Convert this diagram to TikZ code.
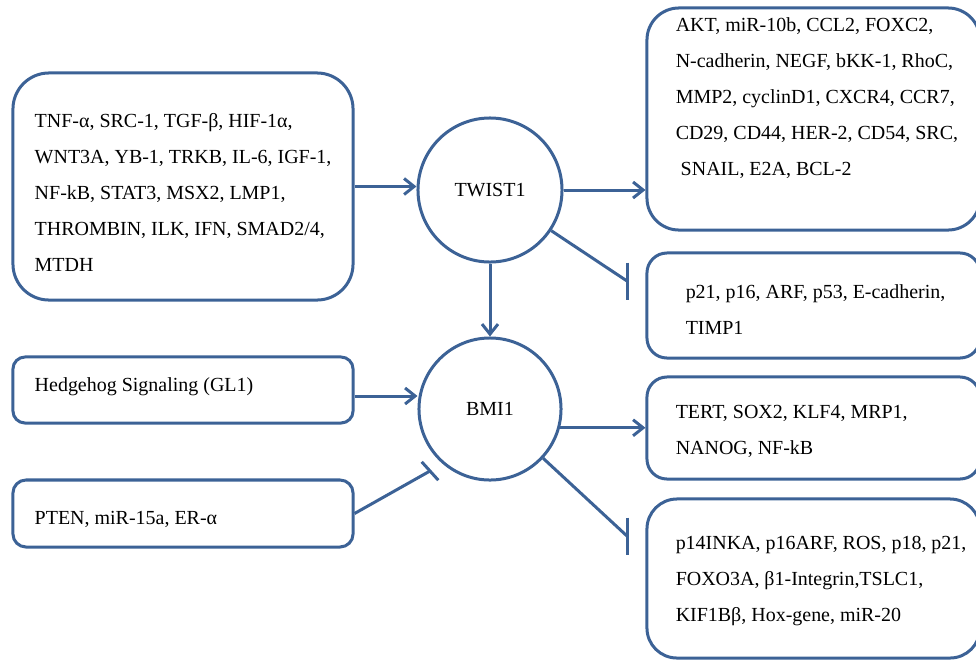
\documentclass[tikz,border=0pt]{standalone}
\usepackage{fontspec}
\setmainfont{Liberation Serif}
\newfontfamily\genefont{Liberation Serif}
\usepackage{tikz}
\usetikzlibrary{arrows.meta, positioning}
\definecolor{linkblue}{RGB}{60,98,150}

\begin{document}
\begin{tikzpicture}[x=0.025cm, y=-0.025cm,
    box/.style={draw=linkblue, line width=0.75mm, rectangle},
    gene/.style={draw=linkblue, line width=0.75mm, circle, inner sep=0pt, font=\genefont\fontsize{14.2}{17}\selectfont},
    txt/.style={align=left, inner sep=0pt, anchor=west, font=\genefont\fontsize{14.2}{25.6}\selectfont},
    act/.style={draw=linkblue, line width=0.75mm, -{Straight Barb[length=2.5mm, width=4mm]}},
    inh/.style={draw=linkblue, line width=0.75mm}]
    \useasboundingbox (0,0) rectangle (976,660);

    % 1. Hai gen trung tâm
    \node[gene, minimum size=36mm] (twist) at (490,190) {TWIST1};
    \node[gene, minimum size=35.5mm] (bmi) at (490,409) {BMI1};

    % 2. Các hộp bên trái
    \node[box, rounded corners=9mm, minimum width=85mm, minimum height=56.75mm] (up) at (183,186.5) {};
    \node[box, rounded corners=3mm, minimum width=85mm, minimum height=16.5mm] (hh) at (183,390) {};
    \node[box, rounded corners=3.25mm, minimum width=85mm, minimum height=16.75mm] (pten) at (183,513.5) {};

    % 3. Các hộp bên phải
    \node[box, rounded corners=8mm, minimum width=83.25mm, minimum height=55.5mm] (tr) at (813.5,119) {};
    \node[box, rounded corners=5mm, minimum width=83.25mm, minimum height=26.25mm] (mr) at (813.5,305.5) {};
    \node[box, rounded corners=5mm, minimum width=83.25mm, minimum height=25.5mm] (mrb) at (813.5,428) {};
    \node[box, rounded corners=7.5mm, minimum width=83.25mm, minimum height=39.75mm] (br) at (813.5,578.5) {};

    % 4. Chữ trong các hộp
    \node[txt] (uptxt) at ([xshift=5.75mm, yshift=-1.5mm]up.west)
        {TNF-α, SRC-1, TGF-β, HIF-1α,\\ WNT3A, YB-1, TRKB, IL-6, IGF-1,\\ NF-kB, STAT3, MSX2, LMP1,\\ THROMBIN, ILK, IFN, SMAD2/4,\\ MTDH};
    \node[txt] (hhtxt) at ([xshift=5.75mm, yshift=0.75mm]hh.west) {Hedgehog Signaling (GL1)};
    \node[txt] (ptentxt) at ([xshift=5.75mm, yshift=-1.6mm]pten.west) {PTEN, miR-15a, ER-α};
    \node[txt] (trtxt) at ([xshift=7.5mm, yshift=5.1mm]tr.west)
        {AKT, miR-10b, CCL2, FOXC2,\\ N-cadherin, NEGF, bKK-1, RhoC,\\ MMP2, cyclinD1, CXCR4, CCR7,\\ CD29, CD44, HER-2, CD54, SRC,\\ \ SNAIL, E2A, BCL-2};
    \node[txt] (mrtxt) at ([xshift=10mm, yshift=-1mm]mr.west) {p21, p16, ARF, p53, E-cadherin,\\ TIMP1};
    \node[txt] (mrbtxt) at ([xshift=7.5mm, yshift=-0.75mm]mrb.west) {TERT, SOX2, KLF4, MRP1,\\ NANOG, NF-kB};
    \node[txt] (brtxt) at ([xshift=7.5mm, yshift=-0.6mm]br.west)
        {p14INKA, p16ARF, ROS, p18, p21,\\ FOXO3A, β1-Integrin,TSLC1,\\ KIF1Bβ, Hox-gene, miR-20};

    % 5. Mũi tên kích hoạt
    \draw[act] (up.east) -- (up.east -| twist.west);
    \draw[act] (twist.east) -- (twist.east -| tr.west);
    \draw[act] (twist.south) -- (bmi.north);
    \draw[act] ([yshift=-1.5mm]hh.east) -- ([yshift=-1.5mm]hh.east -| bmi.west);
    \draw[act] (bmi.-15) -- (bmi.-15 -| mrb.west);

    % 6. Đường ức chế
    \coordinate (twstop) at (627,281);
    \coordinate (bmstop) at (627,536);
    \coordinate (ptstop) at (430,471);
    \draw[inh] (twist) -- (twstop);
    \draw[inh] (twstop) ++(0,-18.5) -- ++(0,37);
    \draw[inh] (bmi) -- (bmstop);
    \draw[inh] (bmstop) ++(0,-18.5) -- ++(0,37);
    \draw[inh] (pten.east) -- (ptstop);
    \draw[inh] (ptstop) ++(-8.3,-9.2) -- ++(16.6,18.4);
\end{tikzpicture}
\end{document}
